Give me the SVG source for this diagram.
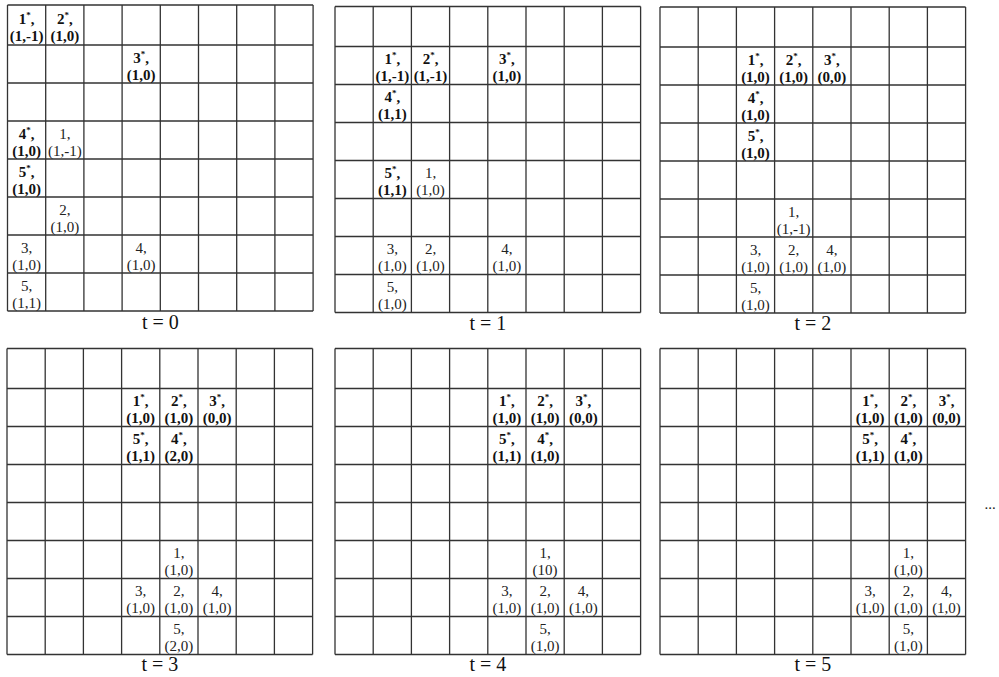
<svg xmlns="http://www.w3.org/2000/svg" xmlns:xlink="http://www.w3.org/1999/xlink" width="999" height="677" viewBox="0 0 999 677" font-family="'Liberation Serif', 'Times New Roman', serif">
<style>
text{font-family:'Liberation Serif','Times New Roman',serif;fill:#111;text-anchor:middle}
.b{font-size:15px;font-weight:bold}
.r{font-size:15px;fill:#222}
.s{font-size:9px}
.lbl{font-size:20px;fill:#111}
.gl{fill:none;stroke:#333;stroke-width:1.3}
</style>
<defs>
<path id="grid" class="gl" d="M0,0V306M38.2,0V306M76.4,0V306M114.6,0V306M152.8,0V306M191,0V306M229.2,0V306M267.4,0V306M305.6,0V306M0,0H305.6M0,40H305.6M0,78H305.6M0,116H305.6M0,154H305.6M0,192H305.6M0,230H305.6M0,268H305.6M0,306H305.6"/>
</defs>
<rect width="999" height="677" fill="#fff"/>

<g id="t0" transform="translate(7.5,5)">
<use href="#grid"/>
<g id="t0-a1"><text class="b" x="19.1" y="19">1<tspan class="s" dy="-6">*</tspan><tspan dy="6">,</tspan></text><text class="b" x="19.1" y="36">(1,-1)</text></g>
<g id="t0-a2"><text class="b" x="57.3" y="19">2<tspan class="s" dy="-6">*</tspan><tspan dy="6">,</tspan></text><text class="b" x="57.3" y="36">(1,0)</text></g>
<g id="t0-a3"><text class="b" x="133.7" y="57.5">3<tspan class="s" dy="-6">*</tspan><tspan dy="6">,</tspan></text><text class="b" x="133.7" y="74.5">(1,0)</text></g>
<g id="t0-a4"><text class="b" x="19.1" y="133.5">4<tspan class="s" dy="-6">*</tspan><tspan dy="6">,</tspan></text><text class="b" x="19.1" y="150.5">(1,0)</text></g>
<g id="t0-b1"><text class="r" x="57.3" y="133.5">1,</text><text class="r" x="57.3" y="150.5">(1,-1)</text></g>
<g id="t0-a5"><text class="b" x="19.1" y="171.5">5<tspan class="s" dy="-6">*</tspan><tspan dy="6">,</tspan></text><text class="b" x="19.1" y="188.5">(1,0)</text></g>
<g id="t0-b2"><text class="r" x="57.3" y="209.5">2,</text><text class="r" x="57.3" y="226.5">(1,0)</text></g>
<g id="t0-b3"><text class="r" x="19.1" y="247.5">3,</text><text class="r" x="19.1" y="264.5">(1,0)</text></g>
<g id="t0-b4"><text class="r" x="133.7" y="247.5">4,</text><text class="r" x="133.7" y="264.5">(1,0)</text></g>
<g id="t0-b5"><text class="r" x="19.1" y="285.5">5,</text><text class="r" x="19.1" y="302.5">(1,1)</text></g>
<text class="lbl" x="152.8" y="324">t = 0</text>
</g>

<g id="t1" transform="translate(335,6.5)">
<use href="#grid"/>
<g id="t1-a1"><text class="b" x="57.3" y="57.5">1<tspan class="s" dy="-6">*</tspan><tspan dy="6">,</tspan></text><text class="b" x="57.3" y="74.5">(1,-1)</text></g>
<g id="t1-a2"><text class="b" x="95.5" y="57.5">2<tspan class="s" dy="-6">*</tspan><tspan dy="6">,</tspan></text><text class="b" x="95.5" y="74.5">(1,-1)</text></g>
<g id="t1-a3"><text class="b" x="171.9" y="57.5">3<tspan class="s" dy="-6">*</tspan><tspan dy="6">,</tspan></text><text class="b" x="171.9" y="74.5">(1,0)</text></g>
<g id="t1-a4"><text class="b" x="57.3" y="95.5">4<tspan class="s" dy="-6">*</tspan><tspan dy="6">,</tspan></text><text class="b" x="57.3" y="112.5">(1,1)</text></g>
<g id="t1-a5"><text class="b" x="57.3" y="171.5">5<tspan class="s" dy="-6">*</tspan><tspan dy="6">,</tspan></text><text class="b" x="57.3" y="188.5">(1,1)</text></g>
<g id="t1-b1"><text class="r" x="95.5" y="171.5">1,</text><text class="r" x="95.5" y="188.5">(1,0)</text></g>
<g id="t1-b3"><text class="r" x="57.3" y="247.5">3,</text><text class="r" x="57.3" y="264.5">(1,0)</text></g>
<g id="t1-b2"><text class="r" x="95.5" y="247.5">2,</text><text class="r" x="95.5" y="264.5">(1,0)</text></g>
<g id="t1-b4"><text class="r" x="171.9" y="247.5">4,</text><text class="r" x="171.9" y="264.5">(1,0)</text></g>
<g id="t1-b5"><text class="r" x="57.3" y="285.5">5,</text><text class="r" x="57.3" y="302.5">(1,0)</text></g>
<text class="lbl" x="152.8" y="323">t = 1</text>
</g>

<g id="t2" transform="translate(660,7)">
<use href="#grid"/>
<g id="t2-a1"><text class="b" x="95.5" y="57.5">1<tspan class="s" dy="-6">*</tspan><tspan dy="6">,</tspan></text><text class="b" x="95.5" y="74.5">(1,0)</text></g>
<g id="t2-a2"><text class="b" x="133.7" y="57.5">2<tspan class="s" dy="-6">*</tspan><tspan dy="6">,</tspan></text><text class="b" x="133.7" y="74.5">(1,0)</text></g>
<g id="t2-a3"><text class="b" x="171.9" y="57.5">3<tspan class="s" dy="-6">*</tspan><tspan dy="6">,</tspan></text><text class="b" x="171.9" y="74.5">(0,0)</text></g>
<g id="t2-a4"><text class="b" x="95.5" y="95.5">4<tspan class="s" dy="-6">*</tspan><tspan dy="6">,</tspan></text><text class="b" x="95.5" y="112.5">(1,0)</text></g>
<g id="t2-a5"><text class="b" x="95.5" y="133.5">5<tspan class="s" dy="-6">*</tspan><tspan dy="6">,</tspan></text><text class="b" x="95.5" y="150.5">(1,0)</text></g>
<g id="t2-b1"><text class="r" x="133.7" y="209.5">1,</text><text class="r" x="133.7" y="226.5">(1,-1)</text></g>
<g id="t2-b3"><text class="r" x="95.5" y="247.5">3,</text><text class="r" x="95.5" y="264.5">(1,0)</text></g>
<g id="t2-b2"><text class="r" x="133.7" y="247.5">2,</text><text class="r" x="133.7" y="264.5">(1,0)</text></g>
<g id="t2-b4"><text class="r" x="171.9" y="247.5">4,</text><text class="r" x="171.9" y="264.5">(1,0)</text></g>
<g id="t2-b5"><text class="r" x="95.5" y="285.5">5,</text><text class="r" x="95.5" y="302.5">(1,0)</text></g>
<text class="lbl" x="152.8" y="322.5">t = 2</text>
</g>

<g id="t3" transform="translate(7,348.5)">
<use href="#grid"/>
<g id="t3-a1"><text class="b" x="133.7" y="57.5">1<tspan class="s" dy="-6">*</tspan><tspan dy="6">,</tspan></text><text class="b" x="133.7" y="74.5">(1,0)</text></g>
<g id="t3-a2"><text class="b" x="171.9" y="57.5">2<tspan class="s" dy="-6">*</tspan><tspan dy="6">,</tspan></text><text class="b" x="171.9" y="74.5">(1,0)</text></g>
<g id="t3-a3"><text class="b" x="210.1" y="57.5">3<tspan class="s" dy="-6">*</tspan><tspan dy="6">,</tspan></text><text class="b" x="210.1" y="74.5">(0,0)</text></g>
<g id="t3-a5"><text class="b" x="133.7" y="95.5">5<tspan class="s" dy="-6">*</tspan><tspan dy="6">,</tspan></text><text class="b" x="133.7" y="112.5">(1,1)</text></g>
<g id="t3-a4"><text class="b" x="171.9" y="95.5">4<tspan class="s" dy="-6">*</tspan><tspan dy="6">,</tspan></text><text class="b" x="171.9" y="112.5">(2,0)</text></g>
<g id="t3-b1"><text class="r" x="171.9" y="209.5">1,</text><text class="r" x="171.9" y="226.5">(1,0)</text></g>
<g id="t3-b3"><text class="r" x="133.7" y="247.5">3,</text><text class="r" x="133.7" y="264.5">(1,0)</text></g>
<g id="t3-b2"><text class="r" x="171.9" y="247.5">2,</text><text class="r" x="171.9" y="264.5">(1,0)</text></g>
<g id="t3-b4"><text class="r" x="210.1" y="247.5">4,</text><text class="r" x="210.1" y="264.5">(1,0)</text></g>
<g id="t3-b5"><text class="r" x="171.9" y="285.5">5,</text><text class="r" x="171.9" y="302.5">(2,0)</text></g>
<text class="lbl" x="152.8" y="322.5">t = 3</text>
</g>

<g id="t4" transform="translate(335,348.5)">
<use href="#grid"/>
<g id="t4-a1"><text class="b" x="171.9" y="57.5">1<tspan class="s" dy="-6">*</tspan><tspan dy="6">,</tspan></text><text class="b" x="171.9" y="74.5">(1,0)</text></g>
<g id="t4-a2"><text class="b" x="210.1" y="57.5">2<tspan class="s" dy="-6">*</tspan><tspan dy="6">,</tspan></text><text class="b" x="210.1" y="74.5">(1,0)</text></g>
<g id="t4-a3"><text class="b" x="248.3" y="57.5">3<tspan class="s" dy="-6">*</tspan><tspan dy="6">,</tspan></text><text class="b" x="248.3" y="74.5">(0,0)</text></g>
<g id="t4-a5"><text class="b" x="171.9" y="95.5">5<tspan class="s" dy="-6">*</tspan><tspan dy="6">,</tspan></text><text class="b" x="171.9" y="112.5">(1,1)</text></g>
<g id="t4-a4"><text class="b" x="210.1" y="95.5">4<tspan class="s" dy="-6">*</tspan><tspan dy="6">,</tspan></text><text class="b" x="210.1" y="112.5">(1,0)</text></g>
<g id="t4-b1"><text class="r" x="210.1" y="209.5">1,</text><text class="r" x="210.1" y="226.5">(10)</text></g>
<g id="t4-b3"><text class="r" x="171.9" y="247.5">3,</text><text class="r" x="171.9" y="264.5">(1,0)</text></g>
<g id="t4-b2"><text class="r" x="210.1" y="247.5">2,</text><text class="r" x="210.1" y="264.5">(1,0)</text></g>
<g id="t4-b4"><text class="r" x="248.3" y="247.5">4,</text><text class="r" x="248.3" y="264.5">(1,0)</text></g>
<g id="t4-b5"><text class="r" x="210.1" y="285.5">5,</text><text class="r" x="210.1" y="302.5">(1,0)</text></g>
<text class="lbl" x="152.8" y="322.5">t = 4</text>
</g>

<g id="t5" transform="translate(660,348.5)">
<use href="#grid"/>
<g id="t5-a1"><text class="b" x="210.1" y="57.5">1<tspan class="s" dy="-6">*</tspan><tspan dy="6">,</tspan></text><text class="b" x="210.1" y="74.5">(1,0)</text></g>
<g id="t5-a2"><text class="b" x="248.3" y="57.5">2<tspan class="s" dy="-6">*</tspan><tspan dy="6">,</tspan></text><text class="b" x="248.3" y="74.5">(1,0)</text></g>
<g id="t5-a3"><text class="b" x="286.5" y="57.5">3<tspan class="s" dy="-6">*</tspan><tspan dy="6">,</tspan></text><text class="b" x="286.5" y="74.5">(0,0)</text></g>
<g id="t5-a5"><text class="b" x="210.1" y="95.5">5<tspan class="s" dy="-6">*</tspan><tspan dy="6">,</tspan></text><text class="b" x="210.1" y="112.5">(1,1)</text></g>
<g id="t5-a4"><text class="b" x="248.3" y="95.5">4<tspan class="s" dy="-6">*</tspan><tspan dy="6">,</tspan></text><text class="b" x="248.3" y="112.5">(1,0)</text></g>
<g id="t5-b1"><text class="r" x="248.3" y="209.5">1,</text><text class="r" x="248.3" y="226.5">(1,0)</text></g>
<g id="t5-b3"><text class="r" x="210.1" y="247.5">3,</text><text class="r" x="210.1" y="264.5">(1,0)</text></g>
<g id="t5-b2"><text class="r" x="248.3" y="247.5">2,</text><text class="r" x="248.3" y="264.5">(1,0)</text></g>
<g id="t5-b4"><text class="r" x="286.5" y="247.5">4,</text><text class="r" x="286.5" y="264.5">(1,0)</text></g>
<g id="t5-b5"><text class="r" x="248.3" y="285.5">5,</text><text class="r" x="248.3" y="302.5">(1,0)</text></g>
<text class="lbl" x="152.8" y="322.5">t = 5</text>
</g>

<g id="connectors"></g>
<text class="r" x="990" y="509">...</text>
</svg>
